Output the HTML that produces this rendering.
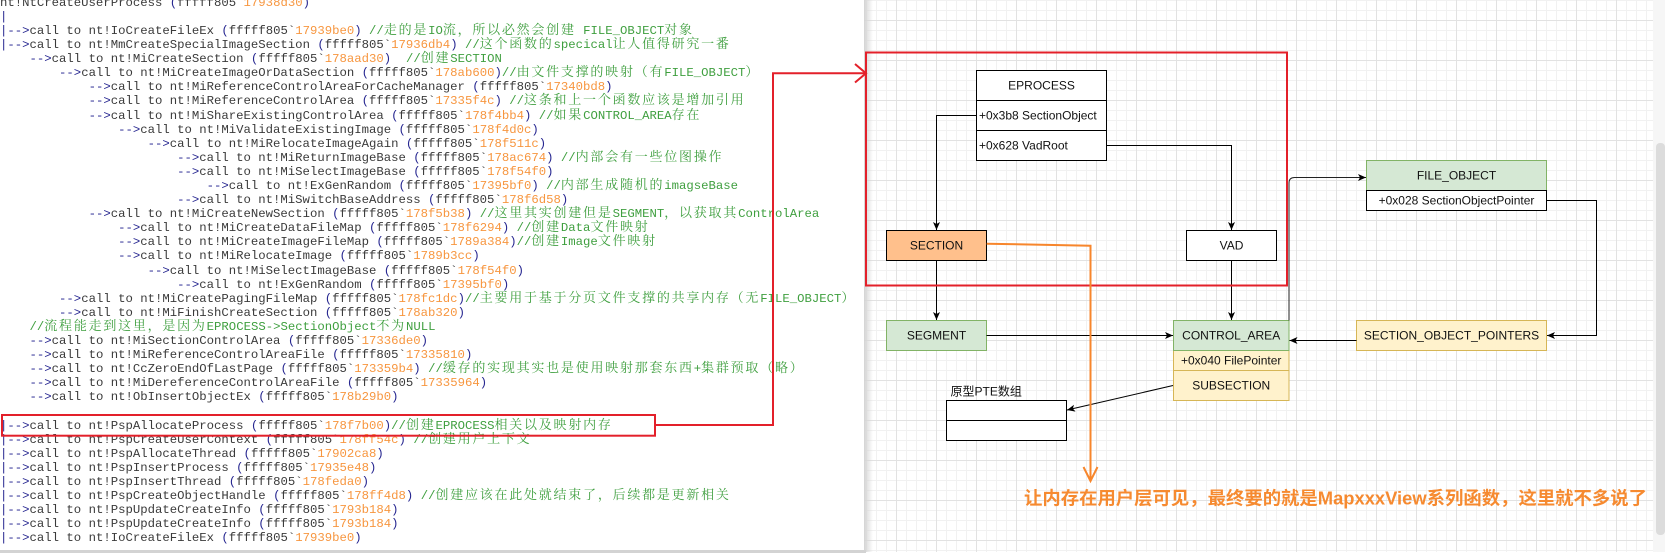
<!DOCTYPE html>
<html><head><meta charset="utf-8">
<style>
html,body{margin:0;padding:0;}
body{width:1665px;height:552px;position:relative;overflow:hidden;background:#fff;}
#canvas{position:absolute;left:864px;top:0;width:789px;height:552px;background-color:#fff;
background-image:
linear-gradient(to right,#e2e2e2 1px,transparent 1px),
linear-gradient(to bottom,#e2e2e2 1px,transparent 1px),
linear-gradient(to right,#f1f1f1 1px,transparent 1px),
linear-gradient(to bottom,#f1f1f1 1px,transparent 1px);
background-size:40px 40px,40px 40px,10px 10px,10px 10px;
background-position:32px 20px,32px 20px,2px 0px,2px 0px;}
#shadow{position:absolute;left:864px;top:0;width:9px;height:552px;background:linear-gradient(to right,#d4d4d4,rgba(230,230,230,0));}
#panel{position:absolute;left:0;top:0;width:864px;height:550px;background:#fff;overflow:hidden;}
#bar{position:absolute;left:0;top:549.5px;width:866px;height:3px;background:#d3d3d3;}
.code{position:absolute;left:0;top:-4.25px;font-family:"Liberation Mono",monospace;font-size:12.3px;color:#3a3a3a;}
.code div{height:14.1px;line-height:14.1px;white-space:pre;overflow:visible;}
.code b{font-weight:normal;color:#262690;}
.code em{font-style:normal;color:#f7963f;}
.code var{font-style:normal;color:#3f9f3f;}
.code i{font-style:normal;font-family:"Noto Serif CJK SC","Noto Sans CJK SC",serif;font-size:13px;letter-spacing:1.76px;line-height:0;}
</style></head><body>
<div id="canvas"></div>
<div id="shadow"></div>
<div id="panel">
<div class="code">
<div>nt!NtCreateUserProcess <b>(</b>fffff805`<em>17938d30</em><b>)</b></div>
<div><b>|</b></div>
<div><b>|--&gt;</b>call to nt!IoCreateFileEx <b>(</b>fffff805`<em>17939be0</em><b>)</b> <var>//<i>走的是</i>IO<i>流，所以必然会创建</i> FILE_OBJECT<i>对象</i></var></div>
<div><b>|--&gt;</b>call to nt!MmCreateSpecialImageSection <b>(</b>fffff805`<em>17936db4</em><b>)</b> <var>//<i>这个函数的</i>specical<i>让人值得研究一番</i></var></div>
<div>    <b>--&gt;</b>call to nt!MiCreateSection <b>(</b>fffff805`<em>178aad30</em><b>)</b>  <var>//<i>创建</i>SECTION</var></div>
<div>        <b>--&gt;</b>call to nt!MiCreateImageOrDataSection <b>(</b>fffff805`<em>178ab600</em><b>)</b><var>//<i>由文件支撑的映射（有</i>FILE_OBJECT<i>）</i></var></div>
<div>            <b>--&gt;</b>call to nt!MiReferenceControlAreaForCacheManager <b>(</b>fffff805`<em>17340bd8</em><b>)</b></div>
<div>            <b>--&gt;</b>call to nt!MiReferenceControlArea <b>(</b>fffff805`<em>17335f4c</em><b>)</b> <var>//<i>这条和上一个函数应该是增加引用</i></var></div>
<div>            <b>--&gt;</b>call to nt!MiShareExistingControlArea <b>(</b>fffff805`<em>178f4bb4</em><b>)</b> <var>//<i>如果</i>CONTROL_AREA<i>存在</i></var></div>
<div>                <b>--&gt;</b>call to nt!MiValidateExistingImage <b>(</b>fffff805`<em>178f4d0c</em><b>)</b></div>
<div>                    <b>--&gt;</b>call to nt!MiRelocateImageAgain <b>(</b>fffff805`<em>178f511c</em><b>)</b></div>
<div>                        <b>--&gt;</b>call to nt!MiReturnImageBase <b>(</b>fffff805`<em>178ac674</em><b>)</b> <var>//<i>内部会有一些位图操作</i></var></div>
<div>                        <b>--&gt;</b>call to nt!MiSelectImageBase <b>(</b>fffff805`<em>178f54f0</em><b>)</b></div>
<div>                            <b>--&gt;</b>call to nt!ExGenRandom <b>(</b>fffff805`<em>17395bf0</em><b>)</b> <var>//<i>内部生成随机的</i>imagseBase</var></div>
<div>                        <b>--&gt;</b>call to nt!MiSwitchBaseAddress <b>(</b>fffff805`<em>178f6d58</em><b>)</b></div>
<div>            <b>--&gt;</b>call to nt!MiCreateNewSection <b>(</b>fffff805`<em>178f5b38</em><b>)</b> <var>//<i>这里其实创建但是</i>SEGMENT<i>，以获取其</i>ControlArea</var></div>
<div>                <b>--&gt;</b>call to nt!MiCreateDataFileMap <b>(</b>fffff805`<em>178f6294</em><b>)</b> <var>//<i>创建</i>Data<i>文件映射</i></var></div>
<div>                <b>--&gt;</b>call to nt!MiCreateImageFileMap <b>(</b>fffff805`<em>1789a384</em><b>)</b><var>//<i>创建</i>Image<i>文件映射</i></var></div>
<div>                <b>--&gt;</b>call to nt!MiRelocateImage <b>(</b>fffff805`<em>1789b3cc</em><b>)</b></div>
<div>                    <b>--&gt;</b>call to nt!MiSelectImageBase <b>(</b>fffff805`<em>178f54f0</em><b>)</b></div>
<div>                        <b>--&gt;</b>call to nt!ExGenRandom <b>(</b>fffff805`<em>17395bf0</em><b>)</b></div>
<div>        <b>--&gt;</b>call to nt!MiCreatePagingFileMap <b>(</b>fffff805`<em>178fc1dc</em><b>)</b><var>//<i>主要用于基于分页文件支撑的共享内存（无</i>FILE_OBJECT<i>）</i></var></div>
<div>        <b>--&gt;</b>call to nt!MiFinishCreateSection <b>(</b>fffff805`<em>178ab320</em><b>)</b></div>
<div>    <var>//<i>流程能走到这里，是因为</i>EPROCESS-&gt;SectionObject<i>不为</i>NULL</var></div>
<div>    <b>--&gt;</b>call to nt!MiSectionControlArea <b>(</b>fffff805`<em>17336de0</em><b>)</b></div>
<div>    <b>--&gt;</b>call to nt!MiReferenceControlAreaFile <b>(</b>fffff805`<em>17335810</em><b>)</b></div>
<div>    <b>--&gt;</b>call to nt!CcZeroEndOfLastPage <b>(</b>fffff805`<em>173359b4</em><b>)</b> <var>//<i>缓存的实现其实也是使用映射那套东西</i>+<i>集群预取（略）</i></var></div>
<div>    <b>--&gt;</b>call to nt!MiDereferenceControlAreaFile <b>(</b>fffff805`<em>17335964</em><b>)</b></div>
<div>    <b>--&gt;</b>call to nt!ObInsertObjectEx <b>(</b>fffff805`<em>178b29b0</em><b>)</b></div>
<div> </div>
<div><b>|--&gt;</b>call to nt!PspAllocateProcess <b>(</b>fffff805`<em>178f7b00</em><b>)</b><var>//<i>创建</i>EPROCESS<i>相关以及映射内存</i></var></div>
<div><b>|--&gt;</b>call to nt!PspCreateUserContext <b>(</b>fffff805`<em>178ff54c</em><b>)</b> <var>//<i>创建用户上下文</i></var></div>
<div><b>|--&gt;</b>call to nt!PspAllocateThread <b>(</b>fffff805`<em>17902ca8</em><b>)</b></div>
<div><b>|--&gt;</b>call to nt!PspInsertProcess <b>(</b>fffff805`<em>17935e48</em><b>)</b></div>
<div><b>|--&gt;</b>call to nt!PspInsertThread <b>(</b>fffff805`<em>178feda0</em><b>)</b></div>
<div><b>|--&gt;</b>call to nt!PspCreateObjectHandle <b>(</b>fffff805`<em>178ff4d8</em><b>)</b> <var>//<i>创建应该在此处就结束了，后续都是更新相关</i></var></div>
<div><b>|--&gt;</b>call to nt!PspUpdateCreateInfo <b>(</b>fffff805`<em>1793b184</em><b>)</b></div>
<div><b>|--&gt;</b>call to nt!PspUpdateCreateInfo <b>(</b>fffff805`<em>1793b184</em><b>)</b></div>
<div><b>|--&gt;</b>call to nt!IoCreateFileEx <b>(</b>fffff805`<em>17939be0</em><b>)</b></div>
</div>
</div>
<div id="bar"></div>

<svg width="1665" height="552" style="position:absolute;left:0;top:0" font-family="'Liberation Sans','Noto Sans CJK SC',sans-serif" font-size="12">
<defs>
<marker id="ar" markerWidth="9" markerHeight="8" refX="8" refY="3.5" orient="auto" markerUnits="userSpaceOnUse"><path d="M0,0 L8,3.5 L0,7 L2,3.5 Z" fill="#000"/></marker>
</defs>

<rect x="1653" y="0" width="12" height="552" fill="#f6f6f6"/>
<rect x="1656" y="143" width="9" height="392" rx="4" fill="#dcdcdc"/>

<g fill="#111">
<rect x="976.5" y="70.5" width="130" height="90" fill="#fff" stroke="#000"/>
<line x1="976.5" y1="100.5" x2="1106.5" y2="100.5" stroke="#000"/>
<line x1="976.5" y1="130.5" x2="1106.5" y2="130.5" stroke="#000"/>
<text x="1041.5" y="89.5" text-anchor="middle">EPROCESS</text>
<text x="979" y="119.5">+0x3b8 SectionObject</text>
<text x="979" y="149.5">+0x628 VadRoot</text>

<rect x="886.5" y="230.5" width="100" height="30" fill="#ffc08c" stroke="#000"/>
<text x="936.5" y="249.5" text-anchor="middle">SECTION</text>

<rect x="1186.5" y="230.5" width="90" height="30" fill="#fff" stroke="#000"/>
<text x="1231.5" y="249.5" text-anchor="middle">VAD</text>

<rect x="886.5" y="320.5" width="100" height="30" fill="#d5e8d4" stroke="#82b366"/>
<text x="936.5" y="339.5" text-anchor="middle">SEGMENT</text>

<rect x="1173.5" y="350.5" width="115.5" height="20" fill="#fff2cc" stroke="#d6b656"/>
<rect x="1173.5" y="370.5" width="115.5" height="30" fill="#fff2cc" stroke="#d6b656"/>
<rect x="1173.5" y="320.5" width="115.5" height="30" fill="#d5e8d4" stroke="#82b366"/>
<text x="1231.2" y="339.5" text-anchor="middle">CONTROL_AREA</text>
<text x="1231.2" y="364.5" text-anchor="middle">+0x040 FilePointer</text>
<text x="1231.2" y="389.5" text-anchor="middle">SUBSECTION</text>

<rect x="946.5" y="400.5" width="120" height="20" fill="#fff" stroke="#000"/>
<rect x="946.5" y="420.5" width="120" height="20" fill="#fff" stroke="#000"/>
<text x="950.5" y="395.5">原型PTE数组</text>

<rect x="1366.5" y="160.5" width="180" height="30" fill="#d5e8d4" stroke="#82b366"/>
<rect x="1366.5" y="190.5" width="180" height="20" fill="#fff" stroke="#000"/>
<text x="1456.5" y="179.5" text-anchor="middle">FILE_OBJECT</text>
<text x="1456.5" y="204.5" text-anchor="middle">+0x028 SectionObjectPointer</text>

<rect x="1356.5" y="320.5" width="190" height="30" fill="#fff2cc" stroke="#d6b656"/>
<text x="1451.5" y="339.5" text-anchor="middle">SECTION_OBJECT_POINTERS</text>
</g>

<g fill="none" stroke="#000" stroke-width="1">
<path d="M976.5,115.5 H936.5 V230" marker-end="url(#ar)"/>
<path d="M1106.5,145.5 H1231.5 V230" marker-end="url(#ar)"/>
<path d="M936.5,260.5 V320" marker-end="url(#ar)"/>
<path d="M1231.5,260.5 V320" marker-end="url(#ar)"/>
<path d="M986.5,335.5 H1173" marker-end="url(#ar)"/>
<path d="M1289,320.5 V183 Q1289,177.5 1294.5,177.5 H1366" stroke="#222" marker-end="url(#ar)"/>
<path d="M1546.5,200.5 H1596.5 V335.5 H1547" marker-end="url(#ar)"/>
<path d="M1356.5,340.5 H1289.5" marker-end="url(#ar)"/>
<path d="M1173,385.5 L1067,410" marker-end="url(#ar)"/>
</g>

<g fill="none" stroke="#e3202a" stroke-width="2">
<rect x="2" y="415" width="653" height="20.7"/>
<path d="M655,425 H773 V73.3 H865"/>
<polyline points="855,64 866,73.3 855,82.5"/>
<rect x="866" y="52.5" width="421" height="233"/>
</g>

<g fill="none" stroke="#f7862c" stroke-width="2">
<path d="M986.7,243.7 L1090.5,245.7 V480"/>
<polyline points="1083.5,467 1090.5,481 1097.5,467"/>
</g>
<text x="1024" y="504.5" font-family="'Liberation Sans','Noto Sans CJK SC',sans-serif" font-size="18" font-weight="bold" fill="#f68a30" textLength="623" lengthAdjust="spacingAndGlyphs">让内存在用户层可见，最终要的就是MapxxxView系列函数，这里就不多说了</text>
</svg>
</body></html>
